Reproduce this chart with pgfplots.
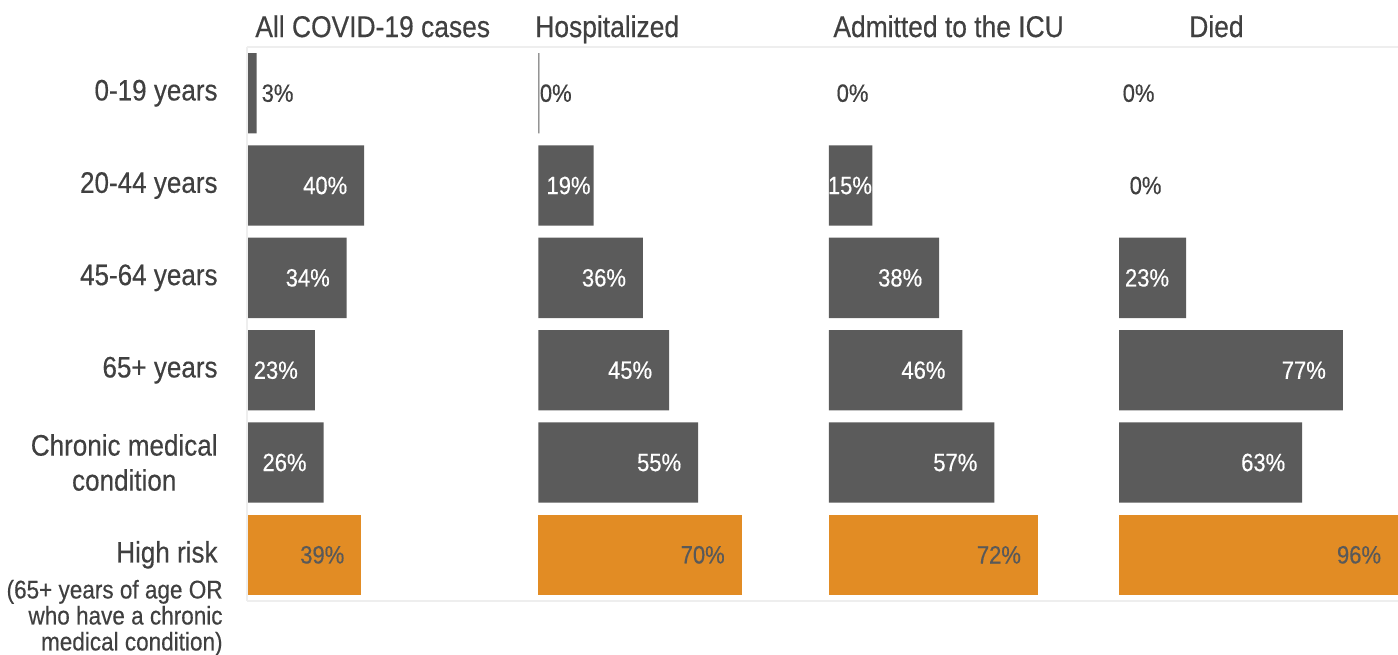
\documentclass[border=0pt]{standalone}
\usepackage{pgfplots}
\pgfplotsset{compat=1.18}
\usepackage{fontspec}
\setmainfont{Liberation Sans}[FakeStretch=0.88, FakeBold=0.4]
\definecolor{bargray}{HTML}{5B5B5B}
\definecolor{barorange}{HTML}{E28C24}
\definecolor{dk}{HTML}{404040}
\definecolor{gy}{HTML}{595959}
\definecolor{framec}{HTML}{EEEEEE}

\pgfplotsset{
  panel/.style={
    scale only axis, height=277pt, ymin=-0.5, ymax=5.5, xmin=0,
    axis line style={draw=none}, xtick=\empty, major tick length=0pt,
    clip=false, every axis title shift=0pt,
    title style={font=\fontsize{15}{18}\selectfont, text=dk, anchor=base west, inner sep=0pt},
  },
  graybar/.style={xbar, bar width=0.87, bar shift=0pt, fill=bargray, draw=none},
  orangebar/.style={xbar, bar width=0.87, bar shift=0pt, fill=barorange, draw=none},
  labels/.style={draw=none, mark=none, nodes near coords={\pgfplotspointmeta\%},
    point meta=explicit symbolic,
    nodes near coords style={anchor=east, inner sep=0pt, font=\fontsize{12.5}{15}\selectfont, text=#1}},
}

\begin{document}
\begin{tikzpicture}
\useasboundingbox (0,0) rectangle (699pt,-327pt);
\draw[framec, line width=1pt] (123.5pt,-23.5pt) -- (699pt,-23.5pt);
\draw[framec, line width=1pt] (123.5pt,-300.5pt) -- (699pt,-300.5pt);
\draw[framec, line width=1pt] (123.5pt,-23.5pt) -- (123.5pt,-300.5pt);

\begin{axis}[panel, at={(124pt,-300.5pt)}, anchor=south west, width=145.2pt, xmax=100,
  title={All COVID-19 cases}, title style={at={(axis description cs:0.024,1.018)}},
  ytick={0,1,2,3,4,5},
  yticklabels={\raisebox{-2pt}{High risk},{Chronic medical\\condition},65+ years,45-64 years,20-44 years,0-19 years},
  yticklabel style={font=\fontsize{14.8}{17.5}\selectfont, text=dk, align=center, inner sep=0pt, xshift=-15pt}]
\addplot[graybar] coordinates {(3,5) (40,4) (34,3) (23,2) (26,1)};
\addplot[orangebar] coordinates {(39,0)};
\addplot[labels=dk] coordinates {(15.8,5) [3]};
\addplot[labels=white] coordinates {(34.3,4) [40] (28.3,3) [34] (17.3,2) [23] (20.3,1) [26]};
\addplot[labels=gy] coordinates {(33.3,0) [39]};
\end{axis}

\begin{axis}[panel, at={(269.2pt,-300.5pt)}, anchor=south west, width=145.2pt, xmax=100, ytick=\empty,
  title={Hospitalized}, title style={at={(axis description cs:-0.012,1.018)}}]
\addplot[graybar] coordinates {(0.3,5) (19,4) (36,3) (45,2) (55,1)};
\addplot[orangebar] coordinates {(70,0)};
\addplot[labels=dk] coordinates {(11.6,5) [0]};
\addplot[labels=white] coordinates {(18.1,4) [19] (30.3,3) [36] (39.3,2) [45] (49.3,1) [55]};
\addplot[labels=gy] coordinates {(64.3,0) [70]};
\end{axis}

\begin{axis}[panel, at={(414.4pt,-300.5pt)}, anchor=south west, width=145.2pt, xmax=100, ytick=\empty,
  title={Admitted to the ICU}, title style={at={(axis description cs:0.0145,1.018)}}]
\addplot[graybar] coordinates {(15,4) (38,3) (46,2) (57,1)};
\addplot[orangebar] coordinates {(72,0)};
\addplot[labels=dk] coordinates {(13.8,5) [0]};
\addplot[labels=white] coordinates {(15.0,4) [15] (32.3,3) [38] (40.3,2) [46] (51.3,1) [57]};
\addplot[labels=gy] coordinates {(66.3,0) [72]};
\end{axis}

\begin{axis}[panel, at={(559.6pt,-300.5pt)}, anchor=south west, width=139.4pt, xmax=96, ytick=\empty,
  title={Died}, title style={at={(axis description cs:0.25,1.018)}}]
\addplot[graybar] coordinates {(23,3) (77,2) (63,1)};
\addplot[orangebar] coordinates {(96,0)};
\addplot[labels=dk] coordinates {(12.3,5) [0] (14.7,4) [0]};
\addplot[labels=white] coordinates {(17.3,3) [23] (71.3,2) [77] (57.3,1) [63]};
\addplot[labels=gy] coordinates {(90.3,0) [96]};
\end{axis}

\node[anchor=north east, align=right, inner sep=0pt, text=dk, font=\fontsize{12.8}{13}\selectfont]
  at (111.5pt,-289.75pt) {(65+ years of age OR\\who have a chronic\\medical condition)};
\end{tikzpicture}
\end{document}
